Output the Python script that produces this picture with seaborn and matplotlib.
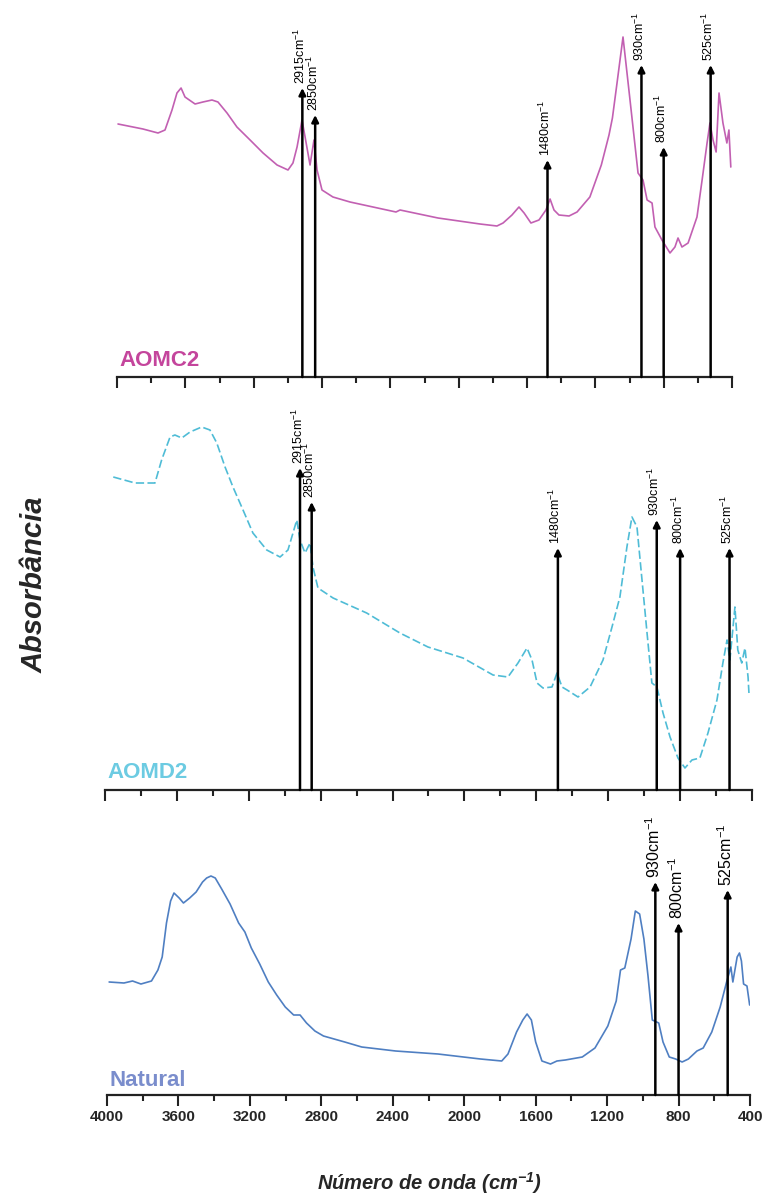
import numpy as np
import pandas as pd
import matplotlib
matplotlib.use('Agg')
from matplotlib import pyplot as plt
from matplotlib.ticker import MultipleLocator
import seaborn as sns

sns.set_style('white')
plt.rcParams['font.family'] = ['Liberation Sans', 'DejaVu Sans']
plt.rcParams['mathtext.fontset'] = 'custom'
plt.rcParams['mathtext.rm'] = 'Liberation Sans'
plt.rcParams['mathtext.it'] = 'Liberation Sans:italic'
plt.rcParams['mathtext.bf'] = 'Liberation Sans:bold:italic'

# spectra (wavenumber in cm-1, absorbance in arbitrary units)
aomc2_wn = [3994, 3848, 3760, 3719, 3678, 3649, 3625, 3602, 3543, 3497, 3444, 3409, 3356,
            3298, 3221, 3145, 3063, 2999, 2970, 2946, 2917, 2899, 2870, 2847, 2829, 2800,
            2736, 2636, 2367, 2343, 2121, 1875, 1776, 1740, 1688, 1647, 1617, 1577, 1530,
            1489, 1465, 1442, 1413, 1354, 1307, 1232, 1165, 1120, 1100, 1073, 1038, 997,
            950, 921, 897, 868, 851, 810, 763, 734, 716, 693, 657, 605, 575, 546, 529, 511,
            493, 476, 453, 430, 418, 407]
aomc2_abs = [2.53, 2.48, 2.44, 2.47, 2.67, 2.84, 2.89, 2.80, 2.73, 2.75, 2.77, 2.75, 2.64,
             2.50, 2.37, 2.24, 2.12, 2.07, 2.14, 2.30, 2.57, 2.40, 2.12, 2.37, 2.07, 1.87,
             1.80, 1.75, 1.65, 1.67, 1.59, 1.53, 1.51, 1.54, 1.62, 1.70, 1.64, 1.54, 1.57,
             1.67, 1.78, 1.67, 1.62, 1.61, 1.65, 1.80, 2.12, 2.42, 2.59, 2.94, 3.40, 2.77,
             2.04, 1.97, 1.77, 1.74, 1.50, 1.37, 1.24, 1.30, 1.39, 1.30, 1.34, 1.60, 1.97,
             2.34, 2.54, 2.37, 2.25, 2.84, 2.54, 2.34, 2.47, 2.10]

aomd2_wn = [3954, 3833, 3722, 3685, 3638, 3611, 3573, 3527, 3462, 3416, 3378, 3332, 3288,
            3232, 3177, 3100, 3026, 2982, 2954, 2933, 2915, 2887, 2859, 2843, 2815, 2731,
            2544, 2359, 2203, 2008, 1841, 1758, 1702, 1652, 1624, 1596, 1563, 1513, 1485,
            1457, 1429, 1368, 1301, 1229, 1179, 1135, 1096, 1068, 1040, 1012, 984, 957,
            929, 895, 856, 812, 773, 734, 690, 645, 595, 562, 539, 523, 495, 479, 457, 439,
            422, 417]
aomd2_abs = [3.13, 3.07, 3.07, 3.30, 3.53, 3.55, 3.52, 3.58, 3.63, 3.60, 3.47, 3.23, 3.03,
             2.80, 2.57, 2.40, 2.33, 2.40, 2.57, 2.70, 2.50, 2.37, 2.47, 2.23, 2.02, 1.92,
             1.77, 1.57, 1.43, 1.32, 1.15, 1.13, 1.27, 1.42, 1.30, 1.07, 1.02, 1.03, 1.17,
             1.03, 1.00, 0.93, 1.03, 1.30, 1.63, 1.93, 2.43, 2.73, 2.63, 2.10, 1.57, 1.07,
             1.03, 0.77, 0.53, 0.32, 0.22, 0.30, 0.32, 0.57, 0.90, 1.27, 1.50, 1.30, 1.83,
             1.40, 1.27, 1.42, 1.13, 0.97]

natural_wn = [3988, 3905, 3857, 3810, 3751, 3715, 3691, 3667, 3644, 3625, 3596, 3572, 3537,
              3501, 3465, 3442, 3418, 3394, 3358, 3311, 3263, 3228, 3192, 3145, 3097, 3050,
              3002, 2955, 2919, 2883, 2836, 2788, 2669, 2574, 2384, 2147, 1909, 1790, 1755,
              1707, 1672, 1648, 1624, 1600, 1565, 1517, 1481, 1434, 1339, 1268, 1196, 1149,
              1125, 1101, 1066, 1042, 1018, 994, 971, 947, 911, 887, 852, 816, 780, 745, 697,
              662, 614, 567, 531, 507, 496, 472, 459, 448, 436, 417, 402]
natural_abs = [1.13, 1.12, 1.14, 1.11, 1.14, 1.25, 1.38, 1.72, 1.94, 2.02, 1.97, 1.92, 1.97,
               2.03, 2.13, 2.17, 2.19, 2.17, 2.06, 1.91, 1.72, 1.63, 1.47, 1.31, 1.13, 1.00,
               0.88, 0.80, 0.80, 0.72, 0.64, 0.59, 0.53, 0.48, 0.44, 0.41, 0.36, 0.34, 0.41,
               0.63, 0.75, 0.81, 0.75, 0.53, 0.34, 0.31, 0.34, 0.35, 0.38, 0.47, 0.69, 0.94,
               1.25, 1.27, 1.56, 1.84, 1.81, 1.56, 1.19, 0.75, 0.72, 0.53, 0.38, 0.36, 0.33,
               0.36, 0.44, 0.47, 0.63, 0.88, 1.13, 1.28, 1.13, 1.38, 1.42, 1.34, 1.11, 1.09,
               0.90]

# marked bands: label, where the arrow stands on the axis, and arrow tip height
aomc2_bands = ['2915', '2850', '1480', '930', '800', '525']
aomc2_pos = [2915, 2840, 1480, 930, 800, 525]
aomc2_tips = [2.89, 2.62, 2.17, 3.12, 2.30, 3.12]
aomd2_bands = ['2915', '2850', '1480', '930', '800', '525']
aomd2_pos = [2915, 2850, 1480, 930, 800, 525]
aomd2_tips = [3.22, 2.88, 2.42, 2.70, 2.42, 2.42]
natural_bands = ['930', '800', '525']
natural_pos = [930, 800, 525]
natural_tips = [2.13, 1.72, 2.05]

W, H = 766, 1198
fig = plt.figure(figsize=(W / 100, H / 100), dpi=100)


def px_axes(x0, x1, y_axis, y_top):
    return fig.add_axes([x0 / W, 1 - y_axis / H, (x1 - x0) / W, (y_axis - y_top) / H])


ax_top = px_axes(117, 732, 377, 0)
ax_mid = px_axes(105, 752, 790, 400)
ax_bot = px_axes(107, 750, 1095, 800)

panels = [
    (ax_top, aomc2_wn, aomc2_abs, '#c260b2', '-', 'AOMC2', '#c4459c',
     aomc2_bands, aomc2_pos, aomc2_tips, 9, 3.77),
    (ax_mid, aomd2_wn, aomd2_abs, '#4fbcd6', (0, (5, 2)), 'AOMD2', '#6ccbe2',
     aomd2_bands, aomd2_pos, aomd2_tips, 9, 3.90),
    (ax_bot, natural_wn, natural_abs, '#4f7fc2', '-', 'Natural', '#7a8dcc',
     natural_bands, natural_pos, natural_tips, 11.5, 2.95),
]

for ax, wn, ab, col, ls, name, namecol, bands, pos, tips, fs, ytop in panels:
    df = pd.DataFrame({'wn': wn, 'abs': ab})
    sns.lineplot(data=df, x='wn', y='abs', ax=ax, color=col, lw=1.2, linestyle=ls, sort=False)
    ax.set_xlim(4000, 400)
    ax.set_ylim(0, ytop)
    for sp in ['top', 'left', 'right']:
        ax.spines[sp].set_visible(False)
    ax.spines['bottom'].set_linewidth(1.6)
    ax.spines['bottom'].set_color('#222222')
    ax.set_yticks([])
    ax.set_xlabel('')
    ax.set_ylabel('')
    ax.patch.set_alpha(0)
    ax.xaxis.set_major_locator(MultipleLocator(400))
    ax.xaxis.set_minor_locator(MultipleLocator(200))
    ax.tick_params(axis='x', which='major', direction='out', length=8, width=1.5,
                   color='#222222', bottom=True, labelsize=11, pad=3)
    ax.tick_params(axis='x', which='minor', direction='out', length=4, width=1.5,
                   color='#222222', bottom=True)
    for b, x, t in zip(bands, pos, tips):
        ax.annotate('', xy=(x, t), xytext=(x, 0),
                    arrowprops=dict(arrowstyle='-|>', lw=1.8, color='black',
                                    mutation_scale=10, shrinkA=0, shrinkB=0))
        ax.annotate(b + r'cm$^{-1}$', xy=(x, t), xytext=(-1.5, 3), textcoords='offset points',
                    rotation=90, ha='center', va='bottom', fontsize=fs, color='black',
                    annotation_clip=False)
    ax.text(0.004, 0.03, name, transform=ax.transAxes, color=namecol, fontsize=16,
            fontweight='bold', va='baseline', ha='left')

ax_top.tick_params(axis='x', labelbottom=False)
ax_mid.tick_params(axis='x', labelbottom=False)
for lab in ax_bot.get_xticklabels():
    lab.set_fontweight('bold')

fig.text(35 / W, 1 - 585 / H, 'Absorbância', rotation=90, ha='center', va='center',
         fontsize=21, fontweight='bold', fontstyle='italic')
fig.text(430 / W, 1 - 1183 / H, r'Número de onda (cm$^{\mathbf{-1}}$)', ha='center',
         va='center', fontsize=14.5, fontweight='bold', fontstyle='italic')

fig.savefig('out.png', dpi=100)
